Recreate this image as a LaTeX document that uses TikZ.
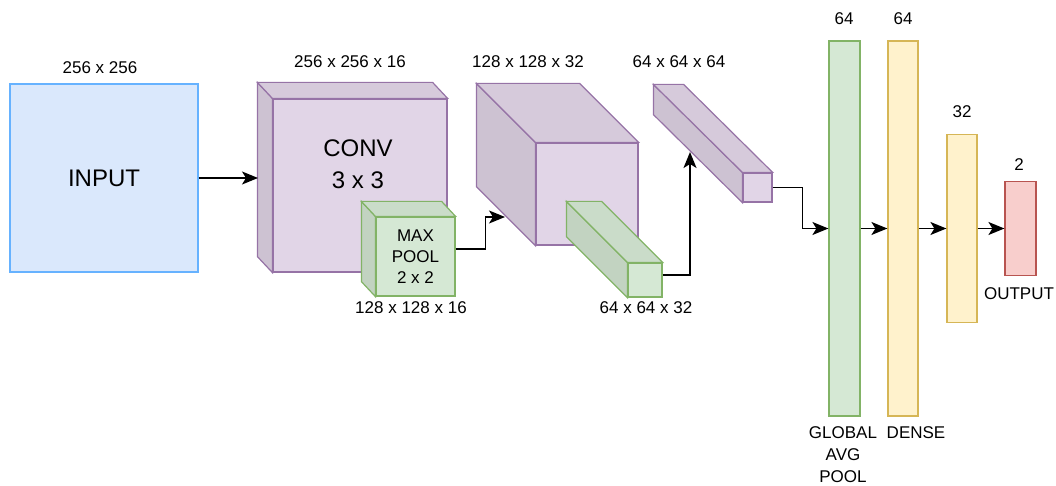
\documentclass[tikz,border=0pt]{standalone}
\usepackage{fontspec}
\setmainfont{Liberation Sans}
\usetikzlibrary{arrows.meta}
\definecolor{bluefill}{HTML}{DAE8FC}
\definecolor{blueline}{HTML}{66B2FF}
\definecolor{purplefill}{HTML}{E1D5E7}
\definecolor{purpleline}{HTML}{9673A6}
\definecolor{greenfill}{HTML}{D5E8D4}
\definecolor{greenline}{HTML}{82B366}
\definecolor{yellowfill}{HTML}{FFF2CC}
\definecolor{yellowline}{HTML}{D6B656}
\definecolor{redfill}{HTML}{F8CECC}
\definecolor{redline}{HTML}{B85450}
\tikzstyle{layer_box}=[rectangle,inner sep=0pt,line width=1.2pt]
\tikzstyle{input_box}=[layer_box,draw=blueline,fill=bluefill]
\tikzstyle{purple_box}=[layer_box,draw=purpleline,fill=purplefill]
\tikzstyle{green_box}=[layer_box,draw=greenline,fill=greenfill]
\tikzstyle{yellow_box}=[layer_box,draw=yellowline,fill=yellowfill]
\tikzstyle{red_box}=[layer_box,draw=redline,fill=redfill]
\tikzstyle{dim_label}=[font=\fontsize{17}{21}\selectfont,align=center,inner sep=0pt]
\tikzstyle{big_label}=[font=\fontsize{24}{32}\selectfont,align=center,inner sep=0pt]
\tikzstyle{transition}=[draw=black,line width=1.6pt,-{Stealth[length=16pt,width=13pt,inset=4pt]}]
% side and top faces behind a front face node: node, dx, dy, colour
\newcommand{\cubefaces}[4]{%
	\draw [line width=1.2pt,draw=#4line,fill=#4fill!91!black] (#1.north west) -- (#1.south west) -- ++(#2,#3) -- ([shift={(#2,#3)}]#1.north west) -- cycle;
	\draw [line width=1.2pt,draw=#4line,fill=#4fill!95!black] (#1.north west) -- (#1.north east) -- ++(#2,#3) -- ([shift={(#2,#3)}]#1.north west) -- cycle;
}
\begin{document}
\begin{tikzpicture}[x=1pt,y=-1pt]
	\useasboundingbox (0,0) rectangle (1056,486);
	% input
	\node [style=input_box, minimum width=188pt, minimum height=188pt, font=\fontsize{24}{28}\selectfont] (input) at (104,178) {INPUT};
	\node [style=dim_label] (input_dim) at (100,68) {256 x 256};
	% conv block with max pool
	\node [style=purple_box, minimum width=174pt, minimum height=173pt] (conv) at (360,185.5) {};
	\cubefaces{conv}{-15}{-16}{purple}
	\node [style=big_label] (conv_txt) at (358,164) {CONV\\3 x 3};
	\node [style=dim_label] (conv_dim) at (350,62) {256 x 256 x 16};
	\node [style=green_box, minimum width=79pt, minimum height=79pt, font=\fontsize{17}{21}\selectfont, align=center] (pool) at (415.5,256.5) {MAX\\POOL\\2 x 2};
	\cubefaces{pool}{-14}{-15}{green}
	\node [style=dim_label] (pool_dim) at (411,308) {128 x 128 x 16};
	% second block
	\node [style=purple_box, minimum width=102pt, minimum height=102pt] (cube128) at (587,194) {};
	\cubefaces{cube128}{-59}{-59}{purple}
	\node [style=dim_label] (cube128_dim) at (528,62) {128 x 128 x 32};
	\node [style=green_box, minimum width=34pt, minimum height=34pt] (bar32) at (645,280) {};
	\cubefaces{bar32}{-61}{-61}{green}
	\node [style=dim_label] (bar32_dim) at (646,308) {64 x 64 x 32};
	% third block
	\node [style=purple_box, minimum width=29pt, minimum height=29pt] (bar64) at (757.5,187.5) {};
	\cubefaces{bar64}{-89}{-88}{purple}
	\node [style=dim_label] (bar64_dim) at (679,62) {64 x 64 x 64};
	% dense part
	\node [style=green_box, minimum width=31pt, minimum height=375pt] (gap) at (844.5,228.5) {};
	\node [style=yellow_box, minimum width=30pt, minimum height=375pt] (dense64) at (903,228.5) {};
	\node [style=yellow_box, minimum width=30pt, minimum height=188pt] (dense32) at (962,228.5) {};
	\node [style=red_box, minimum width=31pt, minimum height=94pt] (out) at (1020.5,228.5) {};
	\node [style=dim_label] (gap_dim) at (844,19) {64};
	\node [style=dim_label] (dense64_dim) at (903,19) {64};
	\node [style=dim_label] (dense32_dim) at (962,112) {32};
	\node [style=dim_label] (out_dim) at (1019,165) {2};
	\node [style=dim_label, font=\fontsize{17}{22}\selectfont] (gap_txt) at (843,455) {GLOBAL\\AVG\\POOL};
	\node [style=dim_label] (dense_txt) at (916,433) {DENSE};
	\node [style=dim_label] (out_txt) at (1019,294) {OUTPUT};
	% connectors
	\coordinate (conv_in) at (258,178);
	\coordinate (cube128_in) at (505,217);
	\coordinate (bar64_in) at (690,152);
	\draw [style=transition] (input.east |- conv_in) -- (conv_in);
	\draw [style=transition] (pool.east |- 0,249) -- ++(30,0) |- (cube128_in);
	\draw [style=transition] (bar32.east |- 0,275) -| (bar64_in);
	\draw [style=transition] (bar64.east) -- ++(30,0) |- (gap.west);
	\draw [style=transition] (gap.east) -- (dense64.west);
	\draw [style=transition] (dense64.east) -- (dense32.west);
	\draw [style=transition] (dense32.east) -- (out.west);
\end{tikzpicture}
\end{document}
